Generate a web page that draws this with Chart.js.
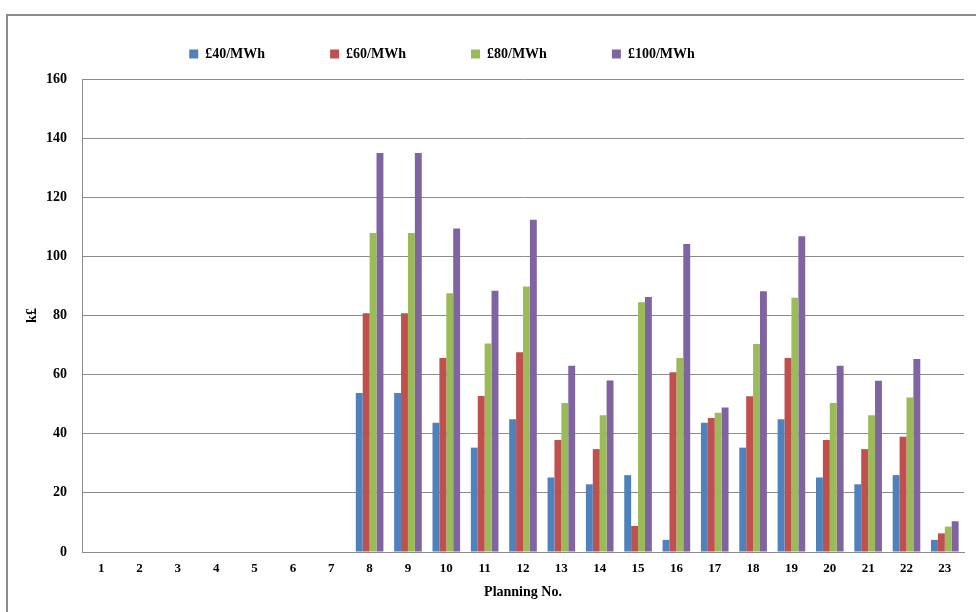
<!DOCTYPE html>
<html>
<head>
<meta charset="utf-8">
<script src="https://cdn.jsdelivr.net/npm/chart.js@4"></script>
<style>
  body { margin: 0; background: #fff; }
</style>
</head>
<body>
<canvas id="cost-chart" width="976" height="612"></canvas>
<script>
const planning = ['1', '2', '3', '4', '5', '6', '7', '8', '9', '10', '11', '12', '13', '14', '15', '16', '17', '18', '19', '20', '21', '22', '23'];

const price40 = [0, 0, 0, 0, 0, 0, 0, 53.8, 53.8, 43.7, 35.3, 44.9, 25.2, 22.9, 26.0, 4.1, 43.7, 35.3, 44.9, 25.2, 22.9, 26.0, 4.1];
const price60 = [0, 0, 0, 0, 0, 0, 0, 80.8, 80.8, 65.6, 52.8, 67.6, 37.9, 34.8, 8.8, 60.8, 45.3, 52.7, 65.6, 37.9, 34.8, 39.0, 6.3];
const price80 = [0, 0, 0, 0, 0, 0, 0, 107.9, 107.9, 87.5, 70.5, 89.8, 50.4, 46.3, 84.5, 65.6, 47.1, 70.4, 86.0, 50.4, 46.3, 52.3, 8.6];
const price100 = [0, 0, 0, 0, 0, 0, 0, 135.0, 135.0, 109.4, 88.4, 112.4, 63.0, 58.0, 86.3, 104.2, 48.9, 88.2, 106.8, 63.0, 57.9, 65.3, 10.4];

const yTicks = [0, 20, 40, 60, 80, 100, 120, 140, 160];

const serif = '"Liberation Serif", "Times New Roman", serif';

// grey frame round the whole chart, like the spreadsheet export
const frame = {
    id: 'frame',
    beforeInit(chart) {
        // a bit more room under the legend
        const fit = chart.legend.fit;
        chart.legend.fit = function () {
            fit.bind(chart.legend)();
            this.height += 8;
        };
    },
    afterLayout(chart) {
        // legend sits left of centre in the original
        chart.legend.left -= 52;
        chart.legend.right -= 52;
    },
    beforeDraw(chart) {
        const c = chart.ctx;
        c.save();
        c.strokeStyle = '#8c8c8c';
        c.lineWidth = 2;
        c.strokeRect(7, 15, 1100, 800);
        c.restore();
    }
};

const ctx = document.getElementById('cost-chart');

new Chart(ctx, {
    type: 'bar',
    data: {
        labels: planning,
        datasets: [
            { label: '£40/MWh', data: price40, backgroundColor: '#4F81BD' },
            { label: '£60/MWh', data: price60, backgroundColor: '#C0504D' },
            { label: '£80/MWh', data: price80, backgroundColor: '#9BBB59' },
            { label: '£100/MWh', data: price100, backgroundColor: '#8064A2' }
        ]
    },
    options: {
        responsive: false,
        animation: false,
        categoryPercentage: 0.72,
        barPercentage: 1.0,
        layout: {
            padding: { top: -18, left: 24, right: 12, bottom: 13 }
        },
        plugins: {
            legend: {
                position: 'top',
                labels: {
                    boxWidth: 9,
                    boxHeight: 9,
                    padding: 65,
                    color: '#000',
                    font: { family: serif, size: 14, weight: 'bold' }
                }
            },
            tooltip: { enabled: false }
        },
        scales: {
            x: {
                grid: { display: false, drawTicks: false },
                border: { color: '#8c8c8c' },
                ticks: {
                    color: '#000',
                    padding: 10,
                    maxRotation: 0,
                    font: { family: serif, size: 13, weight: 'bold', lineHeight: 1 }
                },
                title: {
                    display: true,
                    text: 'Planning No.',
                    color: '#000',
                    padding: { top: 0, bottom: 0 },
                    font: { family: serif, size: 14, weight: 'bold', lineHeight: 1 }
                }
            },
            y: {
                min: 0,
                max: 160,
                afterBuildTicks(scale) {
                    scale.ticks = yTicks.map(v => ({ value: v }));
                },
                afterFit(scale) {
                    scale.width = 58;
                },
                grid: { color: '#8c8c8c', drawTicks: false },
                border: { color: '#8c8c8c' },
                ticks: {
                    color: '#000',
                    padding: 15,
                    font: { family: serif, size: 14, weight: 'bold' }
                },
                title: {
                    display: true,
                    text: 'k£',
                    color: '#000',
                    padding: { top: 0, bottom: 0 },
                    font: { family: serif, size: 14, weight: 'bold' }
                }
            }
        }
    },
    plugins: [frame]
});
</script>
</body>
</html>
